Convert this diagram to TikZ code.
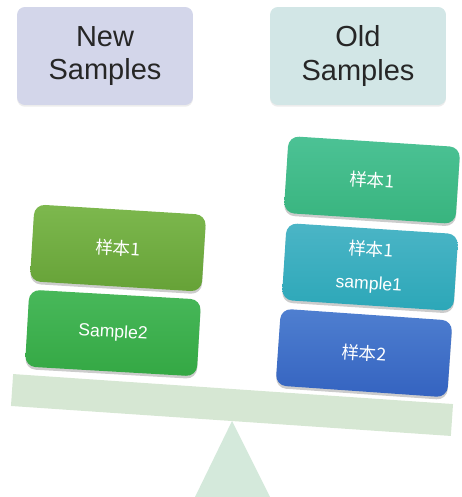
\documentclass[tikz,border=0pt]{standalone}
\usepackage{fontspec}
\setmainfont{Liberation Sans}
\newfontfamily\cjk{Noto Sans CJK SC}
\usetikzlibrary{shadows}
\definecolor{newbg}{HTML}{D3D6EA}
\definecolor{oldbg}{HTML}{D2E6E6}
\definecolor{beamc}{HTML}{D6E7D3}
\definecolor{standc}{HTML}{D4E9DB}
\definecolor{newatop}{HTML}{7DB84E}
\definecolor{newabot}{HTML}{66A237}
\definecolor{newbtop}{HTML}{48B85A}
\definecolor{newbbot}{HTML}{34A844}
\definecolor{oldatop}{HTML}{4CC295}
\definecolor{oldabot}{HTML}{38B47E}
\definecolor{oldbtop}{HTML}{4BB5C6}
\definecolor{oldbbot}{HTML}{2CA7B8}
\definecolor{oldctop}{HTML}{4F7FD0}
\definecolor{oldcbot}{HTML}{3463C0}
\begin{document}
\begin{tikzpicture}[x=0.02cm, y=-0.02cm,
  header/.style={rounded corners=4.5pt, minimum width=3.52cm, minimum height=1.96cm,
    align=center, font=\fontsize{16.5}{19}\selectfont, text=black!85,
    drop shadow={shadow xshift=0pt, shadow yshift=-1pt, opacity=0.15}},
  sample/.style={rounded corners=6pt, minimum width=3.44cm, minimum height=1.54cm,
    rotate=-3.7, align=center, text=white, font=\fontsize{10}{20}\selectfont,
    drop shadow={shadow xshift=0pt, shadow yshift=-1.5pt, opacity=0.4}}]
\useasboundingbox (0,0) rectangle (462,497);
% headings
\node[header, fill=newbg] (newhead) at (105,56) {New\\Samples};
\node[header, fill=oldbg] (oldhead) at (358,56) {Old\\Samples};
% seesaw
\path[fill=standc] (232,421) -- (270,497) -- (195,497) -- cycle;
\node[fill=beamc, rotate=-3.9, minimum width=8.82cm, minimum height=0.64cm, inner sep=0pt] (beam) at (232,405) {};
% new samples
\node[sample, top color=newatop, bottom color=newabot, rotate=0.2] (new1) at (118,248) {\cjk 样本1};
\node[sample, top color=newbtop, bottom color=newbbot, rotate=0.4] (new2) at (113,333) {Sample2};
% old samples
\node[sample, top color=oldatop, bottom color=oldabot] (old1) at (372,180) {\cjk 样本1};
\node[sample, top color=oldbtop, bottom color=oldbbot] (old2) at (370,267) {{\cjk 样本1}\\[-1pt]sample1};
\node[sample, top color=oldctop, bottom color=oldcbot, rotate=-0.3] (old3) at (364,353) {\cjk 样本2};
\end{tikzpicture}
\end{document}
